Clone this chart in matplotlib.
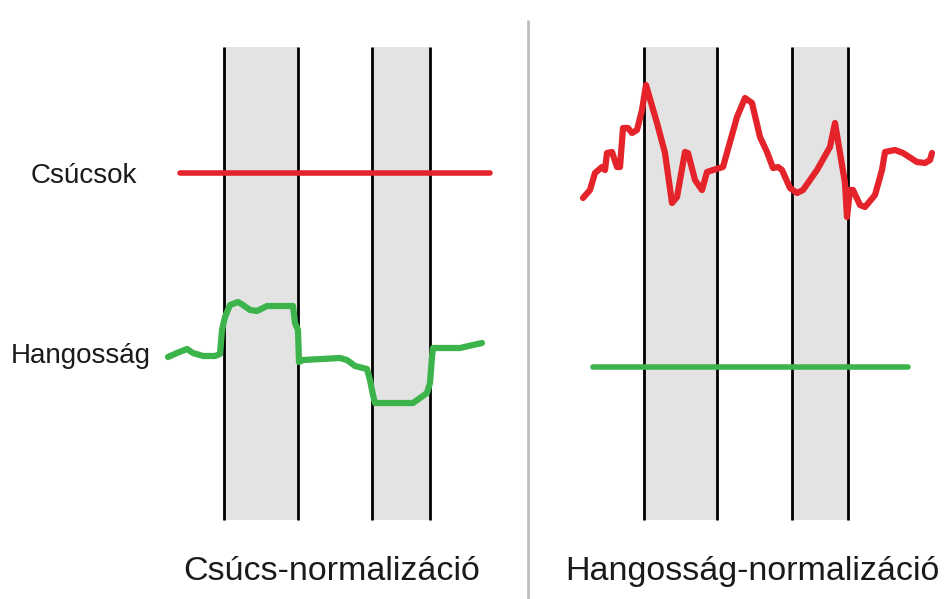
import matplotlib
matplotlib.use("Agg")
import matplotlib.pyplot as plt
import numpy as np

# ---- data (schematic, in pixel-like units) ----
left_bands = [(224, 298), (372, 430)]
right_bands = [(644, 717), (792, 848)]

green_left_x = [168, 177, 187, 193, 203, 215, 220, 222, 225, 230, 238, 243, 250, 257, 263,
                267, 293, 295, 298, 299, 303, 340, 347, 355, 367, 370, 373, 375, 413, 427,
                430, 432, 433, 460, 473, 482]
green_left_y = [357, 353, 349, 353, 356, 356, 354, 330, 317, 305, 302, 305, 310, 311, 308,
                306, 306, 323, 330, 362, 360, 358, 360, 366, 369, 380, 395, 403, 403, 393,
                383, 357, 348, 348, 345, 343]

red_right_x = [583, 590, 595, 602, 605, 607, 612, 617, 620, 623, 628, 632, 637, 642, 646,
               657, 665, 672, 677, 685, 688, 695, 702, 707, 713, 723, 737, 745, 752, 760,
               767, 770, 773, 778, 782, 790, 797, 803, 817, 830, 835, 840, 845, 847, 850,
               853, 860, 865, 875, 882, 885, 895, 903, 917, 925, 930, 932]
red_right_y = [198, 190, 173, 167, 170, 153, 152, 167, 167, 128, 128, 133, 130, 110, 85,
               123, 153, 203, 197, 152, 153, 180, 190, 172, 170, 167, 117, 98, 103, 137,
               152, 160, 168, 167, 170, 188, 193, 190, 170, 147, 123, 153, 183, 217, 190,
               190, 205, 207, 195, 170, 152, 150, 153, 162, 163, 160, 153]

peak_level_left = 173
peak_span_left = (180, 490)
loud_level_right = 367
loud_span_right = (593, 908)

row_labels = ["Csúcsok", "Hangosság"]
panel_titles = ["Csúcs-normalizáció", "Hangosság-normalizáció"]

RED = "#e5232a"
GREEN = "#3cb44b"
BAND = "#e3e3e3"

fig = plt.figure(figsize=(9.48, 5.99), dpi=100)
ax = fig.add_axes([0, 0, 1, 1])
ax.set_xlim(0, 948)
ax.set_ylim(599, 0)
ax.axis("off")

band_top, band_bot = 47, 520
for (a, b) in left_bands + right_bands:
    ax.axvspan(a, b, ymin=(599 - band_bot) / 599, ymax=(599 - band_top) / 599,
               color=BAND, lw=0, zorder=1)
    for xx in (a, b):
        ax.plot([xx, xx], [band_top, band_bot], color="black", lw=2, zorder=2,
                solid_capstyle="butt")

# divider
ax.plot([528, 528], [20, 599], color="#bdbdbd", lw=2, zorder=2, solid_capstyle="butt")

# left panel
ax.plot(peak_span_left, [peak_level_left] * 2, color=RED, lw=4, zorder=3,
        solid_capstyle="round")
ax.plot(green_left_x, green_left_y, color=GREEN, lw=4.5, zorder=3,
        solid_capstyle="round", solid_joinstyle="round")

# right panel
ax.plot(red_right_x, red_right_y, color=RED, lw=4.5, zorder=3,
        solid_capstyle="round", solid_joinstyle="round")
ax.plot(loud_span_right, [loud_level_right] * 2, color=GREEN, lw=4, zorder=3,
        solid_capstyle="round")

font = ["Liberation Sans", "DejaVu Sans"]
ax.text(31, 183, row_labels[0], fontsize=20, family=font, va="baseline", ha="left",
        color="#1a1a1a")
ax.text(11, 363, row_labels[1], fontsize=20, family=font, va="baseline", ha="left",
        color="#1a1a1a")

ax.text(332, 580, panel_titles[0], fontsize=24.5, family=font, va="baseline",
        ha="center", color="#1a1a1a")
ax.text(752, 580, panel_titles[1], fontsize=24.5, family=font, va="baseline",
        ha="center", color="#1a1a1a")

fig.savefig("out.png", dpi=100, facecolor="white")
